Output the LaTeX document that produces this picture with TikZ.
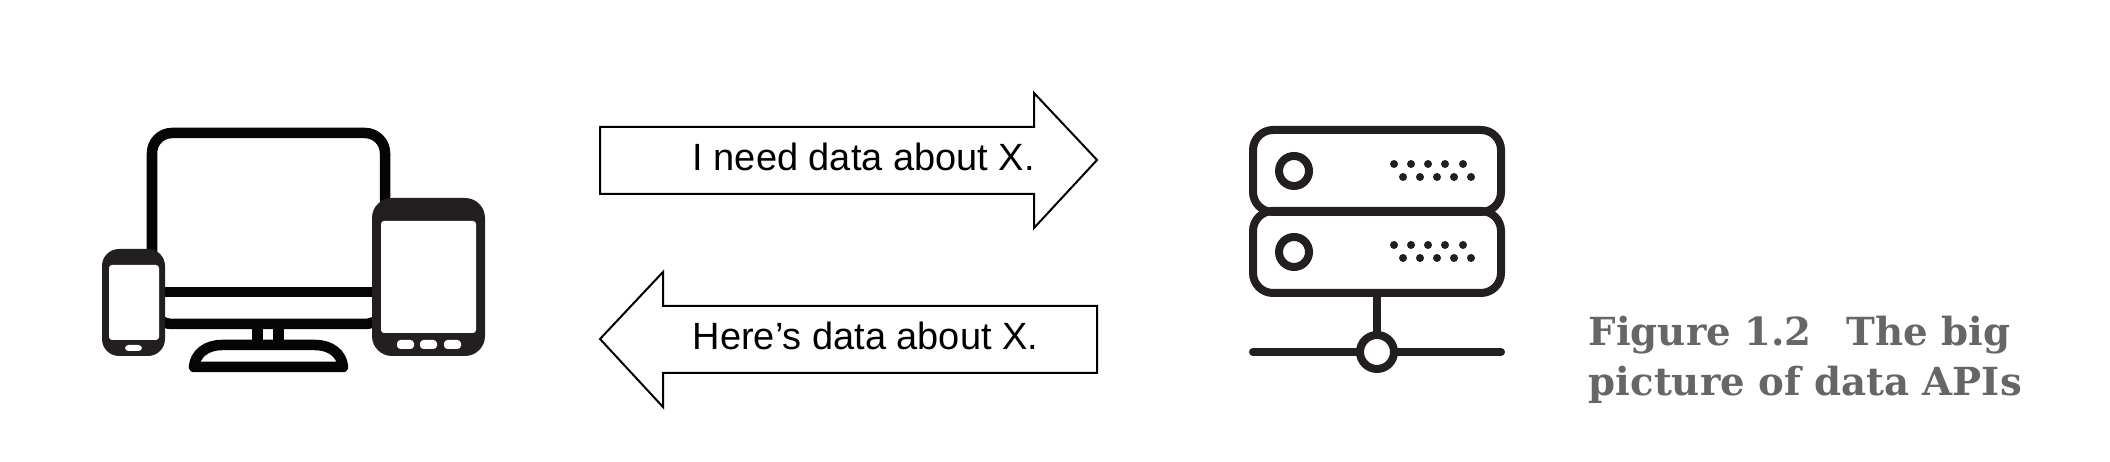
\documentclass[tikz,border=0pt]{standalone}
\usepackage{fontspec}
\setmainfont{Liberation Sans}
\newfontfamily\captionfont{DejaVu Serif}
\usepackage{tikz}

\definecolor{monitorblack}{HTML}{050505}
\definecolor{devicedark}{HTML}{231F20}
\definecolor{captiongray}{HTML}{666666}

\tikzset{
	monitorline/.style={draw=monitorblack, line width=0.105cm, line join=round},
	serverline/.style={draw=devicedark, line width=0.08cm, line cap=round},
	devicebody/.style={fill=devicedark, rounded corners=0.17cm},
	screen/.style={fill=white, rounded corners=0.03cm},
	softkey/.style={fill=white, rounded corners=0.035cm},
	dataarrow/.style={draw=black, line width=0.02cm, fill=white, line join=miter},
	arrowlabel/.style={anchor=base west, inner sep=0pt, font=\fontsize{10.8}{13}\selectfont},
	figcaption/.style={anchor=north west, inner sep=0pt, align=left, text=captiongray,
		font=\captionfont\bfseries\fontsize{11}{14.2}\selectfont},
}

\begin{document}
\begin{tikzpicture}[x=0.01cm, y=-0.01cm]
		
		\useasboundingbox (0,0) rectangle (2110,462);
		
		% Draw the monitor
		\draw[monitorline, rounded corners=0.2cm] (152,133) rectangle (385,324);
		\draw[monitorline] (152,292) -- (385,292);
		\draw[monitorline] (257.5,329) -- (257.5,345);
		\draw[monitorline] (278.5,329) -- (278.5,345);
		\draw[monitorline] (194,367) .. controls (195,354) and (206,345) .. (222,345) -- (315,345) .. controls (331,345) and (342,354) .. (343,367) -- cycle;
		
		% Draw the phone
		\fill[devicebody] (102,249) rectangle (165,356);
		\fill[screen] (109,265) rectangle (159,340);
		\fill[softkey] (125,345) rectangle (142,351);
		
		% Draw the tablet
		\fill[devicebody, rounded corners=0.2cm] (372,198) rectangle (485,356);
		\fill[screen] (381,221) rectangle (476,333);
		\foreach \keyx in {397,420,444}
			\fill[softkey] (\keyx,340) rectangle (\keyx+17,349);
		
		% Draw the request and response arrows
		\draw[dataarrow] (600,127) -- (1034,127) -- (1034,93) -- (1097,160) -- (1034,228) -- (1034,194) -- (600,194) -- cycle;
		\node[arrowlabel] (request) at (692,171) {I need data about X.};
		\draw[dataarrow] (1097,306) -- (663,306) -- (663,272) -- (600,339) -- (663,407) -- (663,373) -- (1097,373) -- cycle;
		\node[arrowlabel] (response) at (692,350) {Here’s data about X.};
		
		% Draw the two server units
		\foreach \unity in {0,81} {
			\begin{scope}[yshift=-\unity*0.01cm]
				\draw[serverline, rounded corners=0.2cm] (1253,130) rectangle (1501,212);
				\draw[serverline] (1294,171) circle (15);
				\foreach \dotx in {1394,1411,1428,1445,1463}
					\fill[devicedark] (\dotx,164) circle (4);
				\foreach \dotx in {1403,1420,1437,1454,1471}
					\fill[devicedark] (\dotx,177) circle (4);
			\end{scope}
		}
		
		% Draw the network line
		\draw[serverline] (1377,297) -- (1377,335);
		\draw[serverline] (1253,352) -- (1501,352);
		\draw[serverline, fill=white] (1377,352) circle (17);
		
		% Add the figure caption
		\node[figcaption] (caption) at (1588,315) {Figure 1.2\hspace{0.9em}The big\\picture of data APIs};
		
	\end{tikzpicture}
\end{document}
